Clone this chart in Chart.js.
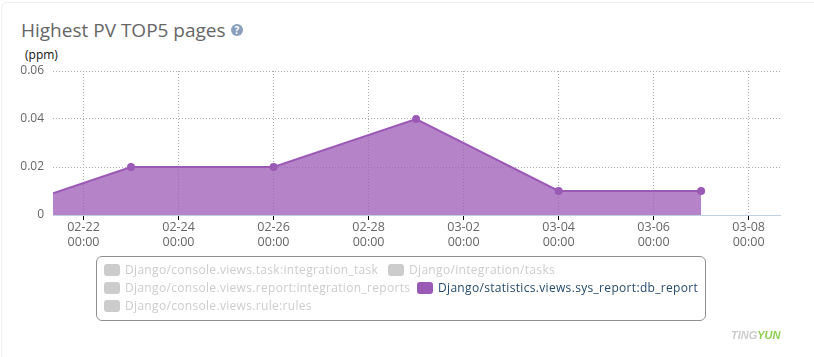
<!DOCTYPE html>
<html>
<head>
  <meta charset="utf-8">
  <title>Highest PV TOP5 pages</title>
  <script src="https://cdn.jsdelivr.net/npm/chart.js"></script>
  <style>
    html, body { margin: 0; padding: 0; background: #fff; }
    body { width: 814px; height: 357px; position: relative; overflow: hidden; font-family: "Open Sans", sans-serif; }
    .card { position: absolute; left: 1px; top: 2px; width: 830px; height: 380px; border: 1px solid #efefef; border-radius: 6px; box-sizing: border-box; }
    h2 { position: absolute; left: 21px; top: 17px; margin: 0; font-size: 19px; line-height: 26px; font-weight: 400; color: #666; white-space: nowrap; }
    .help { position: absolute; left: 231px; top: 24px; width: 12px; height: 12px; border-radius: 50%; background: #8a9fbb; color: #fff; font-size: 10px; font-weight: 700; line-height: 12px; text-align: center; }
    .unit { position: absolute; left: 25px; top: 47px; font-size: 12px; line-height: 16px; color: #111; }
    canvas { position: absolute; left: 0; top: 0; }
    .legend { position: absolute; left: 96px; top: 256px; width: 610px; height: 65px; border: 1px solid #909090; border-radius: 6px; box-sizing: border-box; }
    .item { position: absolute; height: 18px; font-size: 12px; letter-spacing: 0.32px; line-height: 18px; white-space: nowrap; color: #ccc; padding-left: 21px; }
    .item i { position: absolute; left: 0; top: 3px; width: 16px; height: 12px; border-radius: 3px; background: #ccc; }
    .item.on { color: #274b6d; }
    .item.on i { background: #9b59b6; }
    .mark { position: absolute; left: 731px; top: 328px; font-size: 11px; line-height: 14px; font-weight: 700; font-style: italic; color: #ccc; font-family: "Liberation Sans", sans-serif; }
    .mark b { color: #8fd14f; }
  </style>
</head>
<body>
<div class="card"></div>
<h2>Highest PV TOP5 pages</h2>
<span class="help">?</span>
<div class="unit">(ppm)</div>
<canvas id="chart" width="814" height="357"></canvas>
<div class="legend" id="legend"></div>
<div class="mark">TING<b>YUN</b></div>

<script>
  // dates are in a non leap year, the axis goes 02-28 -> 03-02 in two days
  const pointDates = ['2015-02-21T08:35Z', '2015-02-23T00:00Z', '2015-02-26T00:00Z', '2015-03-01T00:00Z', '2015-03-04T00:00Z', '2015-03-07T00:00Z'];
  const pointValues = [0.009, 0.02, 0.02, 0.04, 0.01, 0.01];
  const tickDates = ['2015-02-22', '2015-02-24', '2015-02-26', '2015-02-28', '2015-03-02', '2015-03-04', '2015-03-06', '2015-03-08'];
  const yTicks = [0, 0.02, 0.04, 0.06];
  const axisStart = '2015-02-21T08:35Z';
  const axisEnd = '2015-03-08T15:50Z';

  const legendLabels = [
    'Django/console.views.task:integration_task',
    'Django/integration/tasks',
    'Django/console.views.report:integration_reports',
    'Django/statistics.views.sys_report:db_report',
    'Django/console.views.rule:rules'
  ];
  const legendActive = 'Django/statistics.views.sys_report:db_report';
  const legendPos = [[104, 261], [388, 261], [104, 279], [417, 279], [104, 297]];

  legendLabels.forEach((name, i) => {
    const el = document.createElement('div');
    el.className = 'item' + (name === legendActive ? ' on' : '');
    el.style.left = (legendPos[i][0] - 97) + 'px';
    el.style.top = (legendPos[i][1] - 257) + 'px';
    el.innerHTML = '<i></i>';
    el.appendChild(document.createTextNode(name));
    document.getElementById('legend').appendChild(el);
  });

  const pad = n => String(n).padStart(2, '0');

  new Chart(document.getElementById('chart').getContext('2d'), {
    type: 'line',
    data: {
      datasets: [{
        label: legendActive,
        data: pointDates.map((d, i) => ({ x: Date.parse(d), y: pointValues[i] })),
        borderColor: '#9b59b6',
        borderWidth: 2,
        backgroundColor: 'rgba(155, 89, 182, 0.75)',
        fill: 'origin',
        tension: 0,
        pointRadius: pointDates.map((d, i) => i === 0 ? 0 : 4),
        pointBackgroundColor: '#9b59b6',
        pointBorderWidth: 0
      }]
    },
    options: {
      responsive: false,
      animation: false,
      layout: { padding: { top: 71, right: 34, left: 0, bottom: 0 } },
      plugins: { legend: { display: false }, title: { display: false }, tooltip: { enabled: false } },
      scales: {
        x: {
          type: 'linear',
          min: Date.parse(axisStart),
          max: Date.parse(axisEnd),
          afterFit: s => { s.height = 142; },
          afterBuildTicks: s => { s.ticks = tickDates.map(d => ({ value: Date.parse(d + 'T00:00Z') })); },
          border: { color: '#c0d0e0', width: 1, dash: [1, 2] },
          grid: { color: '#aaa', tickColor: '#000', tickLength: 5, tickBorderDash: [], tickWidth: 1 },
          ticks: {
            autoSkip: false,
            maxRotation: 0,
            padding: 0,
            color: '#666',
            font: { family: '"Open Sans", sans-serif', size: 12.5 },
            callback: v => {
              const d = new Date(v);
              return [pad(d.getUTCMonth() + 1) + '-' + pad(d.getUTCDate()), '00:00'];
            }
          }
        },
        y: {
          min: 0,
          max: 0.06,
          afterFit: s => { s.width = 53; },
          afterBuildTicks: s => { s.ticks = yTicks.map(v => ({ value: v })); },
          border: { display: false, dash: [1, 2] },
          grid: { color: '#aaa', drawTicks: false },
          ticks: {
            padding: 9,
            color: '#666',
            font: { family: '"Open Sans", sans-serif', size: 12 },
            callback: v => v === 0 ? '0' : v.toFixed(2)
          }
        }
      }
    }
  });
</script>
</body>
</html>
